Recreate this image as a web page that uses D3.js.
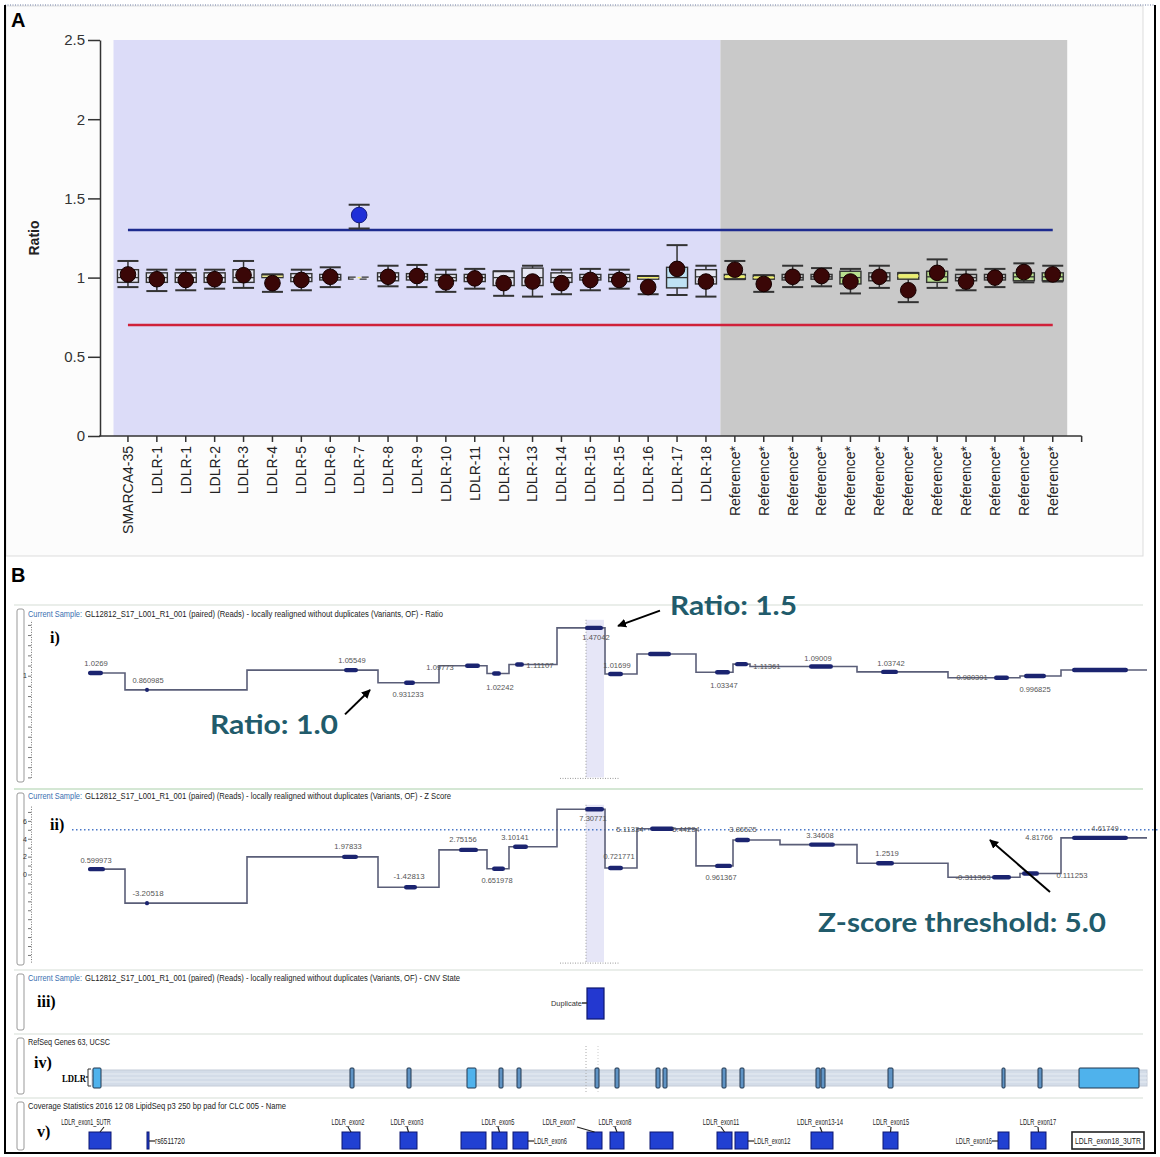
<!DOCTYPE html>
<html lang="en">
<head>
<meta charset="utf-8">
<title>LDLR copy number</title>
<script src="https://cdnjs.cloudflare.com/ajax/libs/d3/7.8.5/d3.min.js"></script>
<style>
body{margin:0;background:#fff;font-family:"Liberation Sans",Arial,sans-serif;}
svg{display:block;}
.axisA text{font-family:"Liberation Sans",Arial,sans-serif;fill:#333;}
.axisA path,.axisA line{stroke:#333;stroke-width:1.5;}
.ruler path{stroke:#777;stroke-dasharray:1,1.5;}
.ruler line{stroke:#777;}
.ruler text{font-size:7px;fill:#333;}
</style>
</head>
<body>
<div id="chart"></div>
<script>
// ---------------- panel A data ----------------
var categories = ["SMARCA4-35","LDLR-1","LDLR-1","LDLR-2","LDLR-3","LDLR-4","LDLR-5","LDLR-6","LDLR-7","LDLR-8","LDLR-9",
    "LDLR-10","LDLR-11","LDLR-12","LDLR-13","LDLR-14","LDLR-15","LDLR-15","LDLR-16","LDLR-17","LDLR-18",
    "Reference*","Reference*","Reference*","Reference*","Reference*","Reference*","Reference*","Reference*","Reference*","Reference*","Reference*","Reference*"]
var nSamples = 21
var ratios = [1.02,0.99,0.985,0.99,1.015,0.965,0.985,1.005,1.395,1.005,1.01,0.97,0.995,0.965,0.975,0.965,0.985,0.985,0.94,1.055,0.975,
    1.05,0.96,1.005,1.01,0.975,1.005,0.92,1.03,0.975,1.0,1.035,1.02]
var whiskerHigh = [1.105,1.05,1.05,1.05,1.105,1.02,1.05,1.065,1.46,1.075,1.08,1.05,1.055,1.04,1.075,1.05,1.055,1.05,1.01,1.205,1.075,
    1.105,1.015,1.075,1.06,1.055,1.075,1.03,1.115,1.05,1.055,1.09,1.075]
var whiskerLow = [0.94,0.915,0.92,0.93,0.935,0.91,0.92,0.94,1.31,0.945,0.94,0.91,0.93,0.885,0.88,0.895,0.92,0.93,0.895,0.89,0.88,
    0.99,0.91,0.94,0.945,0.9,0.935,0.845,0.935,0.92,0.94,0.97,0.975]
var boxHigh = [1.05,1.03,1.03,1.03,1.05,1.02,1.025,1.02,1.003,1.03,1.025,1.02,1.02,1.04,1.06,1.03,1.02,1.02,1.01,1.065,1.05,
    1.02,1.015,1.02,1.02,1.04,1.03,1.03,1.04,1.02,1.02,1.03,1.03]
var boxLow = [0.97,0.97,0.97,0.97,0.97,1.0,0.975,0.985,0.997,0.98,0.985,0.98,0.975,0.95,0.95,0.97,0.985,0.975,0.99,0.935,0.96,
    0.99,0.99,0.985,0.99,0.96,0.98,0.99,0.97,0.98,0.985,0.98,0.98]
var boxMid = [1.0,1.0,1.0,1.0,1.0,1.01,1.0,1.0,1.0,1.005,1.005,1.0,1.0,1.0,1.0,1.0,1.0,1.0,1.0,1.0,1.005,
    1.005,1.0,1.0,1.005,1.0,1.005,1.01,1.005,1.0,1.0,1.005,1.005]
var upperLimit = 1.3
var lowerLimit = 0.7
var yTicksA = [0,0.5,1,1.5,2,2.5]

// ---------------- panel B data (positions along the LDLR locus, 0-1060) ----------------
var ratioSegments = [[0,37,1.0269],[37,159,0.860985],[159,290,1.05549],[290,351,0.931233],[351,399,1.09773],[399,421,1.02242],
    [421,469,1.11107],[469,517,1.47042],[517,549,1.01699],[549,608,1.213],[608,645,1.03347],[645,662,1.11361],[662,769,1.09009],
    [769,860,1.03742],[860,932,0.980391],[932,973,0.996825],[973,1059,1.056]]
var ratioMarks = [[0,15],[57,61],[256,270],[316,327],[377,392],[404,413],[427,436],[497,515],[520,535],[560,583],[627,642],
    [647,660],[721,745],[793,810],[906,921],[936,958],[984,1040]]
var ratioLabels = [["1.0269",8,1.125],["0.860985",60,0.958],["1.05549",264,1.154],["0.931233",320,0.82],["1.09773",352,1.086],
    ["1.02242",412,0.889],["1.11107",452,1.105],["1.47042",508,1.38],["1.01699",529,1.105],["1.03347",636,0.909],
    ["1.11361",679,1.095],["1.09009",730,1.174],["1.03742",803,1.125],["0.980391",884,0.987],["0.996825",947,0.869]]

var zSegments = [[0,37,0.599973],[37,159,-3.20518],[159,290,1.97833],[290,351,-1.42813],[351,399,2.75156],[399,421,0.651978],
    [421,469,3.10141],[469,517,7.30771],[517,549,0.721771],[549,608,5.11334],[608,645,0.961367],[645,692,3.86525],[692,769,3.34608],
    [769,860,1.2519],[860,932,-0.311363],[932,973,0.111253],[973,1059,4.1]]
var zMarks = [[0,17],[57,61],[254,270],[316,329],[371,390],[404,417],[425,440],[497,516],[520,535],[562,586],[627,644],
    [647,662],[721,747],[788,806],[904,923],[934,951],[984,1040]]
var zLabels = [["0.599973",8,1.62],["-3.20518",60,-2.07],["1.97833",260,3.19],["-1.42813",321,-0.17],["2.75156",375,3.97],
    ["0.651978",409,-0.62],["3.10141",427,4.19],["7.30771",505,6.32],["0.721771",531,2.07],["5.11334",542,5.09],["5.44234",598,5.09],
    ["0.961367",633,-0.28],["3.86525",655,5.09],["3.34608",732,4.42],["1.2519",799,2.4],["-0.311363",885,-0.28],
    ["0.111253",984,-0.06],["4.81766",951,4.19],["4.61749",1017,5.2]]
var zThreshold = 5.0

var duplicateRegion = [499,516]
var selection = [498,516]
var geneSpan = [4,1059]
var exons = [[5,13],[262,266],[319,323],[379,388],[411,415],[429,433],[507,511],[527,531],[568,572],[575,579],[634,638],
    [652,656],[728,732],[733,737],[800,805],[914,917],[950,954],[991,1051]]
// start, end, name, label side, label centre
var coverageRegions = [[1,23,"LDLR_exon1_5UTR","above",-2],[59,61,"rs6511720","right",0],[254,272,"LDLR_exon2","above",260],
    [312,329,"LDLR_exon3","above",319],[373,398,"","",0],[404,419,"LDLR_exon5","above",410],[425,440,"LDLR_exon6","right",0],
    [499,514,"LDLR_exon7","above",471],[522,536,"LDLR_exon8","above",527],[562,585,"","",0],[629,644,"LDLR_exon11","above",633],
    [647,660,"LDLR_exon12","right",0],[723,745,"LDLR_exon13-14","above",732],[795,810,"LDLR_exon15","above",803],
    [910,921,"LDLR_exon16","left",0],[943,958,"LDLR_exon17","above",950],[984,1056,"LDLR_exon18_3UTR","inside",0]]

var W = 1160, H = 1157
var svg = d3.select("#chart").append("svg").attr("width",W).attr("height",H)

svg.append("defs").append("marker").attr("id","arrow").attr("viewBox","0 0 10 10")
    .attr("refX",9).attr("refY",5).attr("markerWidth",4.5).attr("markerHeight",4.5).attr("orient","auto")
    .append("path").attr("d","M0,0L10,5L0,10z").attr("fill","#000")

//frames
svg.append("rect").attr("x",6).attr("y",6).attr("width",1137).attr("height",550).attr("fill","#fcfcfc").attr("stroke","#ddd")
svg.append("line").attr("x1",5).attr("x2",1155).attr("y1",5).attr("y2",5).attr("stroke","#6a7aa0").attr("stroke-dasharray","1,1.5")
svg.append("path").attr("d","M5,5V1153H1155V5").attr("fill","none").attr("stroke","#000").attr("stroke-width",2)

svg.append("text").attr("x",11).attr("y",27).text("A").style("font-size","20px").style("font-weight","bold")
svg.append("text").attr("x",11).attr("y",582).text("B").style("font-size","20px").style("font-weight","bold")

// ---------------- panel A ----------------
var xA = d3.scaleBand().domain(d3.range(categories.length)).range([113.5,1067.2])
var yA = d3.scaleLinear().domain([0,2.5]).range([436,40])
var step = xA.step()
function cx(i){ return xA(i)+step/2 }

svg.append("rect").attr("x",xA(0)).attr("y",yA(2.5)).attr("width",xA(nSamples-1)+step-xA(0))
    .attr("height",yA(0)-yA(2.5)).attr("fill","#dcdcf8")
svg.append("rect").attr("x",xA(nSamples)).attr("y",yA(2.5)).attr("width",xA(categories.length-1)+step-xA(nSamples))
    .attr("height",yA(0)-yA(2.5)).attr("fill","#c9c9c9")

var yAxisA = d3.axisLeft(yA).tickValues(yTicksA).tickSize(12).tickSizeOuter(0).tickPadding(3).tickFormat(function(d){return String(d)})
svg.append("g").attr("class","axisA").attr("transform","translate(100,0)").call(yAxisA)
    .selectAll("text").style("font-size","15px")

var xAxisA = d3.axisBottom(xA).tickSize(6).tickSizeOuter(0).tickFormat(function(i){return categories[i]})
var gx = svg.append("g").attr("class","axisA").attr("transform","translate(0,"+yA(0)+")").call(xAxisA)
gx.select(".domain").remove()
gx.selectAll("text").attr("transform","rotate(-90)").attr("x",-10).attr("y",0).attr("dy","0.35em")
    .attr("text-anchor","end").style("font-size","14px").style("fill","#222")
gx.append("line").attr("x1",xA.range()[0]-step/2).attr("x2",xA.range()[1]+step/2).attr("y1",0).attr("y2",0)
gx.append("line").attr("x1",xA.range()[1]+step/2).attr("x2",xA.range()[1]+step/2).attr("y1",0).attr("y2",6)

svg.append("text").attr("transform","translate(39,238) rotate(-90)").attr("text-anchor","middle")
    .text("Ratio").style("font-size","14px").style("font-weight","bold").style("fill","#222")

// threshold lines
svg.append("line").attr("x1",cx(0)).attr("x2",cx(categories.length-1)).attr("y1",yA(upperLimit)).attr("y2",yA(upperLimit))
    .attr("stroke","#1d2b8f").attr("stroke-width",2.5)
svg.append("line").attr("x1",cx(0)).attr("x2",cx(categories.length-1)).attr("y1",yA(lowerLimit)).attr("y2",yA(lowerLimit))
    .attr("stroke","#d0213a").attr("stroke-width",2.5)

var bw = 21
function boxFill(i){
    if(i==19) return "#bfe2f4"
    if(i==21||i==22||i==27) return "#dfe87a"
    if(i==25||i==28||i==31||i==32) return "#b9df8e"
    if(i>=nSamples) return "#c9c9c9"
    return "#e6e6f2"
}
var items = svg.selectAll(".item").data(d3.range(categories.length)).enter().append("g").attr("class","item")
items.append("line").attr("x1",cx).attr("x2",cx).attr("y1",function(i){return yA(whiskerHigh[i])})
    .attr("y2",function(i){return yA(whiskerLow[i])}).attr("stroke","#333").attr("stroke-width",1.5)
items.append("rect").attr("x",function(i){return cx(i)-bw/2}).attr("width",bw)
    .attr("y",function(i){return yA(boxHigh[i])}).attr("height",function(i){return Math.max(2,yA(boxLow[i])-yA(boxHigh[i]))})
    .attr("fill",boxFill).attr("stroke","#333").attr("stroke-width",1.4)
    .attr("stroke-dasharray",function(i){return i==8 ? "7,6" : null})
items.append("line").attr("x1",function(i){return cx(i)-bw/2}).attr("x2",function(i){return cx(i)+bw/2})
    .attr("y1",function(i){return yA(boxMid[i])}).attr("y2",function(i){return yA(boxMid[i])})
    .attr("stroke",function(i){return (i==5||i==8||i==18||i==21||i==22||i==27) ? "#f4ef6a" : "#333"})
    .attr("stroke-width",1.3).attr("stroke-dasharray",function(i){return i==8 ? "3,18" : null})
    .attr("stroke-dashoffset",function(i){return i==8 ? -9 : null})
items.selectAll(".cap").data(function(i){return [[i,whiskerHigh[i]],[i,whiskerLow[i]]]}).enter().append("line")
    .attr("x1",function(d){return cx(d[0])-bw/2}).attr("x2",function(d){return cx(d[0])+bw/2})
    .attr("y1",function(d){return yA(d[1])}).attr("y2",function(d){return yA(d[1])})
    .attr("stroke","#333").attr("stroke-width",2)
items.append("circle").attr("cx",cx).attr("cy",function(i){return yA(ratios[i])}).attr("r",7.8)
    .attr("fill",function(i){return i==8 ? "#1f2fd8" : "#3a0707"})
    .attr("stroke",function(i){return i==8 ? "#141a80" : "#140000"}).attr("stroke-width",1)

// ---------------- panel B ----------------
var xg = d3.scaleLinear().domain([0,1060]).range([88,1148])
var yR = d3.scaleLinear().domain([0,1.55]).range([777.4,619.8])
var yZ = d3.scaleLinear().domain([-9.8,7.8]).range([962.1,804.8])

function fit(sel,w){ sel.attr("textLength",w).attr("lengthAdjust","spacingAndGlyphs") }

var trackTops = [605,789,970,1034,1098]
var trackBottoms = [783,966,1031,1095,1151]
trackTops.forEach(function(t,k){
    svg.append("line").attr("x1",14).attr("x2",1143).attr("y1",t).attr("y2",t)
        .attr("stroke",k==1 ? "#a9cfa9" : "#d6ddd6").attr("stroke-width",1.2)
    svg.append("rect").attr("x",17).attr("y",t+4).attr("width",7).attr("height",trackBottoms[k]-t-5).attr("rx",2)
        .attr("fill","#fff").attr("stroke","#999")
})

// header: blue prefix and the rest as two separately fitted texts
function header(y,blue,rest,w){
    var x = 28
    if(blue){
        fit(svg.append("text").attr("x",x).attr("y",y).style("font-size","8.5px").style("fill","#3a6fb0").text(blue),54)
        x += 57
    }
    fit(svg.append("text").attr("x",x).attr("y",y).style("font-size","8.5px").style("fill","#222").text(rest),w-(x-28))
}
var sampleText = "GL12812_S17_L001_R1_001 (paired) (Reads) - locally realigned without duplicates (Variants, OF) - "
header(617,"Current Sample:",sampleText+"Ratio",415)
header(799,"Current Sample:",sampleText+"Z Score",423)
header(981,"Current Sample:",sampleText+"CNV State",432)
header(1045,"","RefSeq Genes 63, UCSC",82)
header(1109,"","Coverage Statistics 2016 12 08 LipidSeq p3 250 bp pad for CLC 005 - Name",258)

var romans = [["i)",50,643],["ii)",50,830],["iii)",37,1007],["iv)",34,1068],["v)",37,1137]]
romans.forEach(function(r){
    svg.append("text").attr("x",r[1]).attr("y",r[2]).text(r[0])
        .style("font-family","'Liberation Serif','Times New Roman',serif").style("font-weight","bold").style("font-size","16px")
})

// selection band
;[[yR(1.55),yR(0)],[yZ(7.8),yZ(-9.8)]].forEach(function(r){
    svg.append("rect").attr("x",xg(selection[0])).attr("width",xg(selection[1])-xg(selection[0]))
        .attr("y",r[0]).attr("height",r[1]-r[0]).attr("fill","#e6e6f7")
    svg.append("line").attr("x1",xg(selection[0])).attr("x2",xg(selection[0])).attr("y1",r[0]).attr("y2",r[1])
        .attr("stroke","#999").attr("stroke-dasharray","1,2")
    svg.append("line").attr("x1",xg(selection[0])-26).attr("x2",xg(selection[1])+16).attr("y1",r[1]+1).attr("y2",r[1]+1)
        .attr("stroke","#999").attr("stroke-dasharray","1,1.5")
})

// rulers
svg.append("g").attr("class","ruler").attr("transform","translate(31,0)")
    .call(d3.axisLeft(yR).tickValues(d3.range(0,1.56,0.1)).tickSize(3).tickSizeOuter(0).tickPadding(1)
        .tickFormat(function(d){return Math.abs(d-1)<1e-6 ? "1" : ""}))
svg.append("g").attr("class","ruler").attr("transform","translate(31,0)")
    .call(d3.axisLeft(yZ).tickValues(d3.range(-9,8,1)).tickSize(3).tickSizeOuter(0).tickPadding(1)
        .tickFormat(function(d){return (d>=0 && d%2==0) ? String(d) : ""}))

// z threshold
svg.append("line").attr("x1",72).attr("x2",1160).attr("y1",yZ(zThreshold)).attr("y2",yZ(zThreshold))
    .attr("stroke","#4a78c8").attr("stroke-width",1.5).attr("stroke-dasharray","1.5,2.5")

function stepTrack(segs,marks,labels,y){
    var pts = []
    segs.forEach(function(s){ pts.push([s[0],s[2]]); pts.push([s[1],s[2]]) })
    svg.append("path").datum(pts).attr("d",d3.line().x(function(d){return xg(d[0])}).y(function(d){return y(d[1])}))
        .attr("fill","none").attr("stroke","#5a5e78").attr("stroke-width",1.6)
    svg.selectAll(null).data(marks).enter().append("rect")
        .attr("x",function(m){return xg(m[0])}).attr("width",function(m){return Math.max(3,xg(m[1])-xg(m[0]))})
        .attr("y",function(m){
            var mid = (m[0]+m[1])/2
            var s = segs.find(function(s){return mid>=s[0] && mid<=s[1]})
            return y(s[2])-2.2})
        .attr("height",4.4).attr("rx",2.2).attr("fill","#1b2470")
    svg.selectAll(null).data(labels).enter().append("text")
        .attr("x",function(l){return xg(l[1])}).attr("y",function(l){return y(l[2])}).attr("dy","0.35em")
        .attr("text-anchor","middle").text(function(l){return l[0]})
        .style("font-size","8px").style("fill","#555")
        .each(function(l){ fit(d3.select(this),l[0].length*3.9) })
}
stepTrack(ratioSegments,ratioMarks,ratioLabels,yR)
stepTrack(zSegments,zMarks,zLabels,yZ)

// track iii: CNV state
svg.append("rect").attr("x",xg(duplicateRegion[0])).attr("width",xg(duplicateRegion[1])-xg(duplicateRegion[0]))
    .attr("y",988).attr("height",31).attr("fill","#2338d0").attr("stroke","#0c1670").attr("stroke-width",1.2)
var dup = svg.append("text").attr("x",xg(duplicateRegion[0])-5).attr("y",1003).attr("dy","0.35em").attr("text-anchor","end")
    .text("Duplicate").style("font-size","8px").style("fill","#333")
fit(dup,31)
svg.append("line").attr("x1",xg(duplicateRegion[0])-5).attr("x2",xg(duplicateRegion[0])).attr("y1",1003).attr("y2",1003)
    .attr("stroke","#333").attr("stroke-width",1.5)

// track iv: gene model
svg.append("rect").attr("x",xg(geneSpan[0])).attr("width",xg(geneSpan[1])-xg(geneSpan[0])).attr("y",1070).attr("height",16)
    .attr("fill","#d3dce8").attr("stroke","#c4ccd8")
;[1074,1078,1082].forEach(function(yy){
    svg.append("line").attr("x1",xg(geneSpan[0])).attr("x2",xg(geneSpan[1])).attr("y1",yy).attr("y2",yy)
        .attr("stroke","#e6ecf3").attr("stroke-width",1)
})
svg.append("line").attr("x1",xg(selection[0])).attr("x2",xg(selection[0])).attr("y1",1046).attr("y2",1094)
    .attr("stroke","#aaa").attr("stroke-dasharray","1,2")
svg.append("line").attr("x1",xg(selection[0])+12).attr("x2",xg(selection[0])+12).attr("y1",1046).attr("y2",1094)
    .attr("stroke","#ccc").attr("stroke-dasharray","1,2")
svg.selectAll(null).data(exons).enter().append("rect")
    .attr("x",function(e){return xg(e[0])}).attr("width",function(e){return xg(e[1])-xg(e[0])})
    .attr("y",1068).attr("height",20).attr("rx",1)
    .attr("fill",function(e){return (e[1]-e[0])>6 ? "#4fb2ec" : "#5f93c4"}).attr("stroke","#22364e").attr("stroke-width",1)
var ldlr = svg.append("text").attr("x",62).attr("y",1082).text("LDLR").style("font-size","10px").style("font-weight","bold")
    .style("font-family","'Liberation Serif',serif")
fit(ldlr,24)
svg.append("path").attr("d","M"+(xg(geneSpan[0])-1)+",1069h-3v8h-2h2v9h3").attr("fill","none").attr("stroke","#333")

// track v: coverage regions
var regs = svg.selectAll(".reg").data(coverageRegions).enter().append("g").attr("class","reg")
regs.append("rect").attr("x",function(r){return xg(r[0])}).attr("width",function(r){return Math.max(2,xg(r[1])-xg(r[0]))})
    .attr("y",1132).attr("height",17)
    .attr("fill",function(r){return r[3]=="inside" ? "#fff" : "#2140d2"})
    .attr("stroke",function(r){return r[3]=="inside" ? "#222" : "#0c1670"})
    .attr("stroke-width",function(r){return r[3]=="inside" ? 1.6 : 1})
regs.each(function(r){
    var g = d3.select(this)
    var x0 = xg(r[0]), x1 = xg(r[1]), mid = (x0+x1)/2
    if(!r[2]) return
    var t
    if(r[3]=="above"){
        t = g.append("text").attr("x",xg(r[4])).attr("y",1125).attr("text-anchor","middle")
        g.append("line").attr("x1",xg(r[4])+(mid>xg(r[4])+8 ? 18 : 0)).attr("x2",mid).attr("y1",1127).attr("y2",1132)
            .attr("stroke","#222").attr("stroke-width",1.2)
    } else if(r[3]=="right"){
        t = g.append("text").attr("x",x1+6).attr("y",1141).attr("dy","0.35em").attr("text-anchor","start")
        g.append("line").attr("x1",x1).attr("x2",x1+6).attr("y1",1141).attr("y2",1141).attr("stroke","#222").attr("stroke-width",1.2)
    } else if(r[3]=="left"){
        t = g.append("text").attr("x",x0-6).attr("y",1141).attr("dy","0.35em").attr("text-anchor","end")
        g.append("line").attr("x1",x0-6).attr("x2",x0).attr("y1",1141).attr("y2",1141).attr("stroke","#222").attr("stroke-width",1.2)
    } else {
        t = g.append("text").attr("x",mid).attr("y",1141).attr("dy","0.35em").attr("text-anchor","middle")
    }
    t.text(r[2]).style("font-size","8.5px").style("fill","#222")
    fit(t, r[3]=="inside" ? (x1-x0-6) : r[2].length*3.3)
})

// annotations
var teal = "#215b6b"
function note(txt,pos,val,y,w){
    var t = svg.append("text").attr("x",xg(pos)).attr("y",y(val)).text(txt)
        .style("font-family","Lato,'Open Sans',sans-serif").style("font-weight","bold").style("font-size","27px").style("fill",teal)
    fit(t,w)
}
function arrow(p0,v0,p1,v1,y){
    svg.append("line").attr("x1",xg(p0)).attr("y1",y(v0)).attr("x2",xg(p1)).attr("y2",y(v1))
        .attr("stroke","#000").attr("stroke-width",2).attr("marker-end","url(#arrow)")
}
note("Ratio: 1.5",582,1.60,yR,127)
arrow(572,1.64,530,1.49,yR)
note("Ratio: 1.0",122,0.43,yR,128)
arrow(257,0.62,282,0.86,yR)
note("Z-score threshold: 5.0",730,-6.45,yZ,288)
arrow(962,-1.96,902,3.86,yZ)
</script>
</body>
</html>
